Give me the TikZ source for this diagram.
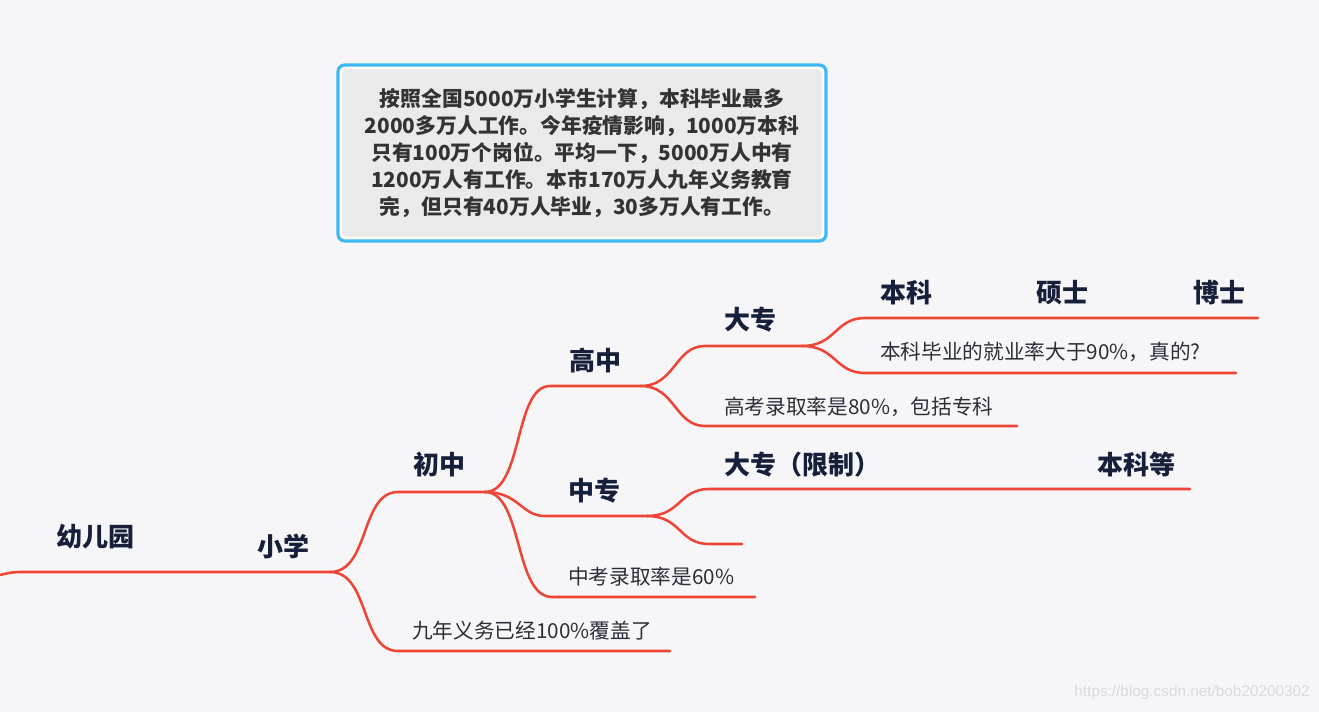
\documentclass[tikz,border=0pt]{standalone}
\usepackage{fontspec}
\setmainfont{Noto Sans CJK SC}
\newfontfamily\wmfont{Liberation Sans}
\definecolor{bg}{HTML}{F6F6F9}
\definecolor{br}{HTML}{EE4537}
\definecolor{tt}{HTML}{17203A}
\definecolor{nt}{HTML}{2C2F3A}
\definecolor{nb}{HTML}{3CB9F6}
\definecolor{nf}{HTML}{EAEAEA}
\definecolor{ntx}{HTML}{333333}
\definecolor{wmc}{HTML}{D9D9DE}
\begin{document}
\begin{tikzpicture}[x=0.75pt,y=-0.75pt,
  branch/.style={draw=br, line width=1.9pt, line cap=round},
  title/.style={font=\bfseries\fontsize{19.5}{23}\selectfont, text=tt, inner sep=0pt},
  plain/.style={font=\fontsize{15.5}{19}\selectfont, text=nt, inner sep=0pt, anchor=west},
  curve/.style={branch}]
\useasboundingbox (0,0) rectangle (1319,712);
\fill[bg] (0,0) rectangle (1319,712);

% ---- note box ----
\draw[nb, line width=2.4pt, fill=white, rounded corners=5pt] (338,65) rectangle (826,241);
\fill[nf, rounded corners=4pt] (342,69) rectangle (822,237);
\node[font=\bfseries\fontsize{15.6}{20.25}\selectfont, text=ntx, align=center, inner sep=0pt] (note) at (582,153)
  {按照全国5000万小学生计算，本科毕业最多\\2000多万人工作。今年疫情影响，1000万本科\\只有100万个岗位。平均一下，5000万人中有\\1200万人有工作。本市170万人九年义务教育\\完，但只有40万人毕业，30多万人有工作。};

% ---- coordinates ----
\coordinate (r0) at (0,575);
\coordinate (r1) at (25,572);
\coordinate (you) at (245,572);
\coordinate (xiao) at (330,572);
\coordinate (chu0) at (398,492);
\coordinate (chu1) at (485,492);
\coordinate (jiu0) at (398,651);
\coordinate (jiu1) at (670,651);
\coordinate (gao0) at (550,386);
\coordinate (gao1) at (641,386);
\coordinate (zz0) at (545,516);
\coordinate (zz1) at (647,516);
\coordinate (zk0) at (552,597);
\coordinate (zk1) at (755,597);
\coordinate (dz0) at (705,346);
\coordinate (dz1) at (802,346);
\coordinate (gk0) at (705,426);
\coordinate (gk1) at (1017,426);
\coordinate (bk0) at (865,318);
\coordinate (bk1) at (1258,318);
\coordinate (by0) at (865,373);
\coordinate (by1) at (1236,373);
\coordinate (xz0) at (709,489);
\coordinate (xz1) at (1190,489);
\coordinate (em0) at (709,544);
\coordinate (em1) at (742,544);

% ---- branches ----
\draw[branch] (r0) .. controls +(12,-3) and +(-10,0) .. (r1) -- (you) -- (xiao);
\draw[branch] (xiao) .. controls +(40,0) and +(-38,0) .. (chu0) -- (chu1);
\draw[branch] (xiao) .. controls +(40,0) and +(-38,0) .. (jiu0) -- (jiu1);
\draw[branch] (chu1) .. controls +(38,0) and +(-36,0) .. (gao0) -- (gao1);
\draw[branch] (chu1) .. controls +(34,0) and +(-24,0) .. (zz0) -- (zz1);
\draw[branch] (chu1) .. controls +(38,0) and +(-38,0) .. (zk0) -- (zk1);
\draw[branch] (gao1) .. controls +(34,0) and +(-30,0) .. (dz0) -- (dz1);
\draw[branch] (gao1) .. controls +(34,0) and +(-30,0) .. (gk0) -- (gk1);
\draw[branch] (dz1) .. controls +(34,0) and +(-30,0) .. (bk0) -- (bk1);
\draw[branch] (dz1) .. controls +(34,0) and +(-30,0) .. (by0) -- (by1);
\draw[branch] (zz1) .. controls +(34,0) and +(-30,0) .. (xz0) -- (xz1);
\draw[branch] (zz1) .. controls +(34,0) and +(-30,0) .. (em0) -- (em1);

% ---- titles ----
\node[title] (youer) at (95,537) {幼儿园};
\node[title] (xiaoxue) at (283,546) {小学};
\node[title] (chuzhong) at (439,465) {初中};
\node[title] (gaozhong) at (595,361) {高中};
\node[title] (zhongzhuan) at (594,491) {中专};
\node[title] (dazhuan) at (750,320) {大专};
\node[title] (benke) at (906,293) {本科};
\node[title] (shuoshi) at (1062,293) {硕士};
\node[title] (boshi) at (1219,293) {博士};
\node[title, anchor=west] (dzxz) at (724,465) {大专（限制）};
\node[title] (benkedeng) at (1136,464) {本科等};

% ---- plain texts ----
\node[plain] (jiuye) at (880,352) {本科毕业的就业率大于90\%，真的?};
\node[plain] (gaokao) at (724,407) {高考录取率是80\%，包括专科};
\node[plain] (zhongkao) at (568,577) {中考录取率是60\%};
\node[plain] (jiunian) at (412,631) {九年义务已经100\%覆盖了};

% ---- watermark ----
\node[font=\wmfont\fontsize{11.5}{13}\selectfont, text=wmc, anchor=east, inner sep=0pt] (wm) at (1310,693) {https://blog.csdn.net/bob20200302};
\end{tikzpicture}
\end{document}
